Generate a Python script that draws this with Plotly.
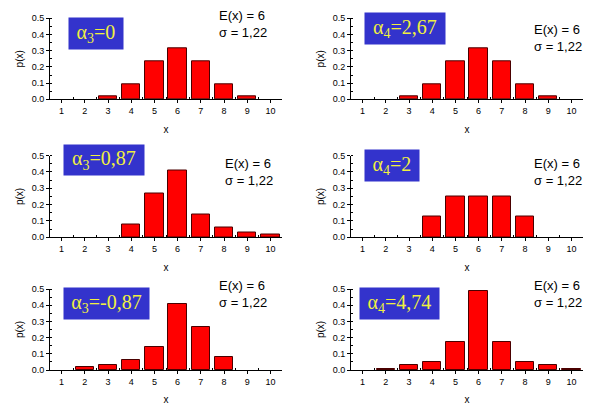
import plotly.graph_objects as go

# the page body has an 8px default margin; compensate so the chart lands where the reference has it
OFF = 8
W, H = 591 - OFF, 405 - OFF

x_values = [1, 2, 3, 4, 5, 6, 7, 8, 9, 10]
x_tick_labels = ["1", "2", "3", "4", "5", "6", "7", "8", "9", "10"]

p_a3_0 = [0, 0, 0.016, 0.094, 0.234, 0.3125, 0.234, 0.094, 0.016, 0]
p_a4_267 = [0, 0, 0.016, 0.094, 0.234, 0.3125, 0.234, 0.094, 0.016, 0]
p_a3_087 = [0, 0, 0, 0.078, 0.266, 0.406, 0.141, 0.0625, 0.031, 0.016]
p_a4_2 = [0, 0, 0, 0.125, 0.25, 0.25, 0.25, 0.125, 0, 0]
p_a3_m087 = [0, 0.016, 0.031, 0.0625, 0.141, 0.406, 0.266, 0.078, 0, 0]
p_a4_474 = [0, 0.008, 0.031, 0.047, 0.17, 0.49, 0.17, 0.047, 0.031, 0.008]

box_labels = ["α<sub>3</sub>=0", "α<sub>4</sub>=2,67", "α<sub>3</sub>=0,87",
              "α<sub>4</sub>=2", "α<sub>3</sub>=-0,87", "α<sub>4</sub>=4,74"]
stats_label = "E(x) = 6<br>σ = 1,22"

series = [p_a3_0, p_a4_267, p_a3_087, p_a4_2, p_a3_m087, p_a4_474]

# layout in window pixels
x_doms_px = [(50, 282), (351, 583), (50, 282), (351, 583), (50, 282), (351, 583)]
y_doms_px = [(18.3, 99.3), (18.3, 99.3), (155.5, 237.3), (155.5, 237.3), (289, 370), (289, 370)]
box_px = [(68, 122, 17, 48), (364, 444, 12, 43), (63, 143, 144, 174),
          (364, 418, 149, 180), (63, 148, 287, 318), (359, 438, 287, 318)]
stats_px = [(217, 23.5), (532, 38), (223, 172), (532, 172), (217, 293.5), (532, 293.5)]


def fx(px):
    return (px - OFF) / W


def fy(py):
    return 1 - (py - OFF) / H


fig = go.Figure()
annotations = []
tick_font = dict(family="Liberation Sans, Arial", size=9, color="black")
title_font = dict(family="Liberation Sans, Arial", size=10, color="black")

for i, vals in enumerate(series):
    n = "" if i == 0 else str(i + 1)
    xs = [x for x, v in zip(x_values, vals) if v > 0]
    ys = [v for v in vals if v > 0]
    fig.add_trace(go.Bar(
        x=xs, y=ys, width=0.8, xaxis="x" + n, yaxis="y" + n,
        marker=dict(color="#FF0000", line=dict(color="#4a0000", width=1)),
        showlegend=False,
    ))
    x0, x1 = x_doms_px[i]
    yt, yb = y_doms_px[i]
    fig.update_layout(**{
        "xaxis" + n: dict(
            domain=[fx(x0), fx(x1)], anchor="y" + n, range=[0.5, 10.5],
            tickmode="array", tickvals=x_values, ticktext=x_tick_labels,
            ticks="outside", ticklen=3, tickwidth=1, tickcolor="black",
            showline=True, linecolor="black", linewidth=1,
            showgrid=False, zeroline=False, tickfont=tick_font, automargin=False,
            minor=dict(tickmode="array", tickvals=[v + 0.5 for v in x_values[:-1]],
                       ticks="inside", ticklen=2, tickcolor="black", showgrid=False),
            title=dict(text="x", font=title_font, standoff=10),
            fixedrange=True,
        ),
        "yaxis" + n: dict(
            domain=[fy(yb), fy(yt)], anchor="x" + n, range=[0, 0.5],
            dtick=0.1, tickformat=".1f",
            ticks="outside", ticklen=3, tickwidth=1, tickcolor="black",
            showline=True, linecolor="black", linewidth=1,
            showgrid=False, zeroline=False, tickfont=tick_font, automargin=False,
            minor=dict(dtick=0.05, ticks="inside", ticklen=2, tickcolor="black", showgrid=False),
            title=dict(text="p(x)", font=title_font, standoff=6),
            fixedrange=True,
        ),
    })
    bx0, bx1, by0, by1 = box_px[i]
    annotations.append(dict(
        xref="paper", yref="paper", x=fx(bx0), y=fy(by0),
        xanchor="left", yanchor="top", showarrow=False,
        text=box_labels[i], width=bx1 - bx0, height=by1 - by0,
        bgcolor="#3333CC", borderpad=0, align="center", valign="middle",
        font=dict(family="Liberation Serif, Times New Roman", size=20, color="#F0F040"),
    ))
    sx, sy = stats_px[i]
    annotations.append(dict(
        xref="paper", yref="paper", x=fx(sx), y=fy(sy),
        xanchor="left", yanchor="middle", showarrow=False, align="left",
        text=stats_label,
        font=dict(family="Liberation Sans, Arial", size=13, color="black"),
    ))

fig.update_layout(
    width=W, height=H, margin=dict(l=0, r=0, t=0, b=0),
    paper_bgcolor="white", plot_bgcolor="white",
    annotations=annotations, bargap=0,
)

fig.write_html("out.html")
